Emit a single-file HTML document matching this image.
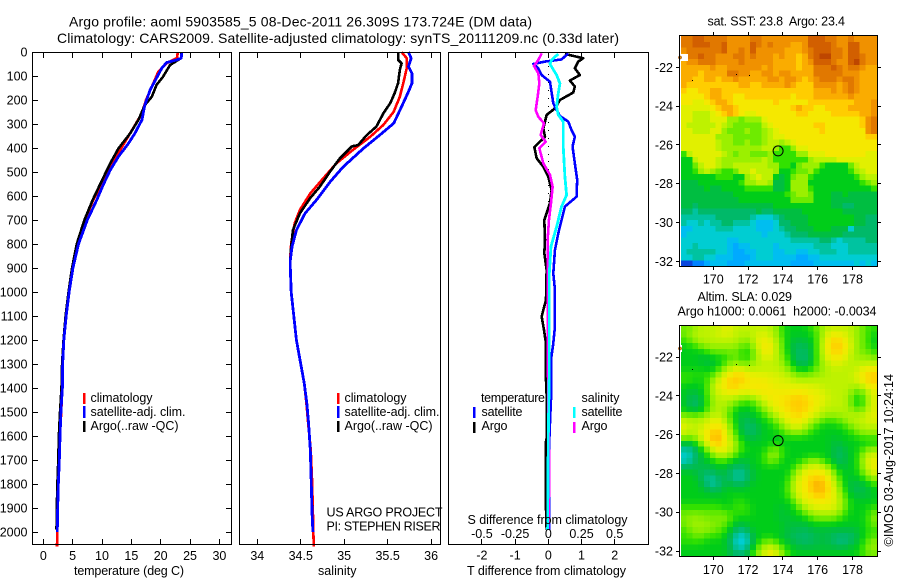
<!DOCTYPE html>
<html lang="en">
<head>
<meta charset="utf-8">
<title>Argo profile 5903585_5</title>
<style>
html,body{margin:0;padding:0;background:#fff;}
svg{display:block;}
text{font-family:"Liberation Sans",sans-serif;font-size:12.5px;fill:#000;}
.frame{fill:none;stroke:#000;stroke-width:1;shape-rendering:crispEdges;}
.pre{white-space:pre;}
</style>
</head>
<body>
<svg id="chart" xmlns="http://www.w3.org/2000/svg" width="900" height="580" viewBox="0 0 900 580">
<rect x="0" y="0" width="900" height="580" fill="#fff"/>
<g id="maps"></g>
<g id="marks"></g>
<rect class="frame" x="32.5" y="52.5" width="199" height="492"/>
<rect class="frame" x="239.5" y="52.5" width="201" height="492"/>
<rect class="frame" x="448.5" y="52.5" width="200" height="492"/>
<rect class="frame" x="679.5" y="35.5" width="198" height="231"/>
<rect class="frame" x="679.5" y="325.5" width="198" height="231"/>
<g id="ticks"></g>

<text x="69" y="26.5" textLength="463" lengthAdjust="spacing" style="font-size:14px">Argo profile: aoml 5903585_5 08-Dec-2011 26.309S 173.724E (DM data)</text>
<text x="57" y="43" textLength="562" lengthAdjust="spacing" style="font-size:14px">Climatology: CARS2009. Satellite-adjusted climatology: synTS_20111209.nc (0.33d later)</text>

<text x="74" y="575" textLength="110" lengthAdjust="spacing">temperature (deg C)</text>
<text x="318" y="575" textLength="38.5" lengthAdjust="spacing">salinity</text>
<text x="467" y="575" textLength="159" lengthAdjust="spacing">T difference from climatology</text>
<text x="467.5" y="524" textLength="160" lengthAdjust="spacing">S difference from climatology</text>

<g>
<rect x="83" y="393" width="2.5" height="11" fill="#ff0000"/>
<text x="90.5" y="402" textLength="62" lengthAdjust="spacing">climatology</text>
<rect x="83" y="406" width="2.5" height="12" fill="#0000ff"/>
<text x="90.5" y="416" textLength="95" lengthAdjust="spacing">satellite-adj. clim.</text>
<rect x="83" y="421" width="2.5" height="11" fill="#000"/>
<text x="90.5" y="430" textLength="88" lengthAdjust="spacing">Argo(..raw -QC)</text>
</g>
<g>
<rect x="337" y="393" width="2.5" height="11" fill="#ff0000"/>
<text x="344.5" y="402" textLength="62" lengthAdjust="spacing">climatology</text>
<rect x="337" y="406" width="2.5" height="12" fill="#0000ff"/>
<text x="344.5" y="416" textLength="95" lengthAdjust="spacing">satellite-adj. clim.</text>
<rect x="337" y="421" width="2.5" height="11" fill="#000"/>
<text x="344.5" y="430" textLength="88" lengthAdjust="spacing">Argo(..raw -QC)</text>
</g>
<text x="326.5" y="516.5" textLength="116" lengthAdjust="spacing">US ARGO PROJECT</text>
<text x="326.5" y="530.5" textLength="114" lengthAdjust="spacing">PI: STEPHEN RISER</text>

<g>
<text x="481" y="402" textLength="64" lengthAdjust="spacing">temperature</text>
<rect x="473" y="407" width="2.5" height="11" fill="#0000ff"/>
<text x="481.5" y="416" textLength="41" lengthAdjust="spacing">satellite</text>
<rect x="473" y="422" width="2.5" height="11" fill="#000"/>
<text x="481.5" y="430" textLength="26" lengthAdjust="spacing">Argo</text>
<text x="581.5" y="402" textLength="38" lengthAdjust="spacing">salinity</text>
<rect x="573" y="407" width="2.5" height="11" fill="#00ffff"/>
<text x="581.5" y="416" textLength="41" lengthAdjust="spacing">satellite</text>
<rect x="573" y="422" width="2.5" height="11" fill="#ff00ff"/>
<text x="581.5" y="430" textLength="26" lengthAdjust="spacing">Argo</text>
</g>

<text class="pre" x="707.5" y="25.5" textLength="137.5" lengthAdjust="spacing">sat. SST: 23.8  Argo: 23.4</text>
<text x="697.5" y="301" textLength="94.5" lengthAdjust="spacing">Altim. SLA: 0.029</text>
<text class="pre" x="677.5" y="315.5" textLength="199" lengthAdjust="spacing">Argo h1000: 0.0061  h2000: -0.0034</text>
<text transform="translate(893,546.5) rotate(-90)" textLength="172.5" lengthAdjust="spacing">©IMOS 03-Aug-2017 10:24:14</text>
</svg>

<script>
// ---------- profile data (depth in dbar) ----------
var tempClimDepths = [0,25,47,82,144,200,256,330,408,478,561,617,700,800,900,1000,1100,1200,1300,1400,1500,1600,1700,1800,1900,2000,2060];
var tempClimValues = [22.9,22.8,21.0,19.6,18.5,17.5,16.8,15.0,13.1,11.4,9.7,8.5,7.1,5.9,5.05,4.4,3.9,3.5,3.3,3.25,3.05,2.85,2.73,2.56,2.45,2.38,2.33];
var tempArgoDepths = [0,25,54,103,137,186,221,283,339,402,464,540,617,700,800,900,1000,1100,1200,1300,1400,1500,1600,1700,1800,1900,1990];
var tempArgoValues = [23.5,23.5,21.6,20.4,19.3,18.5,17.3,16.2,14.8,12.8,11.4,9.9,8.4,7.0,5.7,4.9,4.3,3.8,3.45,3.2,3.1,2.85,2.65,2.55,2.4,2.3,2.25];
var tempSatDepths = [0,26,33,44,67,108,158,221,283,339,381,436,492,554,617,700,800,900,1000,1100,1200,1300,1400,1500,1600,1700,1800,1900,2000];
var tempSatValues = [23.6,23.5,22.7,21.0,20.2,19.3,18.2,17.3,16.8,15.6,14.5,12.8,11.4,10.2,9.1,7.5,6.0,5.05,4.4,3.9,3.5,3.3,3.25,3.0,2.85,2.73,2.56,2.45,2.38];

var salClimDepths = [0,26,67,130,186,249,304,353,408,464,526,589,658,714,797,853,900,1000,1100,1200,1300,1380,1463,1546,1658,1783,1921,2000,2060];
var salClimValues = [35.66,35.72,35.72,35.68,35.64,35.57,35.45,35.30,35.10,34.91,34.76,34.61,34.49,34.43,34.39,34.38,34.38,34.39,34.42,34.45,34.50,34.54,34.565,34.585,34.615,34.63,34.64,34.645,34.65];
var salArgoDepths = [0,33,47,75,130,172,213,256,311,346,388,393,443,497,561,608,672,742,811,867,900,1000,1100,1200,1300,1380,1463,1546,1658,1783,1900];
var salArgoValues = [35.62,35.62,35.66,35.64,35.62,35.58,35.53,35.45,35.37,35.26,35.16,35.09,34.95,34.84,34.72,34.61,34.49,34.41,34.39,34.38,34.38,34.39,34.42,34.45,34.50,34.54,34.57,34.59,34.61,34.62,34.63];
var salSatDepths = [0,26,61,89,130,165,228,297,346,402,478,540,617,672,742,811,867,900,1000,1100,1200,1300,1380,1463,1546,1658,1783,1921,2000];
var salSatValues = [35.74,35.77,35.74,35.78,35.78,35.74,35.66,35.57,35.41,35.22,34.99,34.84,34.68,34.55,34.45,34.40,34.38,34.38,34.39,34.42,34.45,34.50,34.54,34.57,34.59,34.61,34.62,34.63,34.64];

var diffTSatDepths = [6,31,40,50,68,96,124,186,214,242,267,290,325,353,394,464,533,603,644,700,756,825,922,991,1144,1214,1283,1450,1547,1658,1991];
var diffTSatValues = [0.60,0.40,-0.10,-0.45,-0.30,-0.20,0.05,0.12,0.15,0.25,0.35,0.60,0.70,0.80,0.73,0.80,0.87,0.85,0.50,0.40,0.30,0.20,0.15,0.20,0.20,0.15,0.08,0.08,0.05,0.02,0.02];
var diffTArgoDepths = [8,26,40,68,96,119,144,169,200,235,262,290,318,353,397,443,478,519,575,630,700,783,839,908,1033,1102,1158,1214,1269,1366,1463,1602,1630,1852,1991];
var diffTArgoValues = [0.50,1.05,0.90,0.80,0.95,0.65,0.80,0.75,0.35,0.20,-0.05,-0.10,-0.15,-0.10,-0.42,-0.35,-0.15,0,0.10,0.05,-0.12,-0.10,-0.12,-0.05,-0.07,-0.20,-0.13,-0.07,-0.07,-0.07,-0.04,-0.04,-0.08,-0.08,-0.05];
var diffSSatDepths = [8,33,50,96,131,172,228,262,290,394,519,596,644,728,811,922,1325,1602,1991];
var diffSSatValues = [0.075,0.025,0.0125,0.0625,0.0875,0.075,0.0625,0.075,0.1125,0.1125,0.125,0.1375,0.10,0.0625,0.02,0.0075,0.0075,0,-0.005];
var diffSArgoDepths = [6,33,58,89,131,186,242,270,297,346,374,401,464,512,561,630,700,783,922,1214,1658,1852,1991];
var diffSArgoValues = [-0.05,-0.075,-0.1075,-0.075,-0.0675,-0.08,-0.095,-0.075,-0.0325,-0.0575,-0.02,-0.0675,-0.0375,0.0125,0.0325,0.02,0.005,-0.005,-0.005,-0.005,0.005,0.005,0];

// ---------- tick labels ----------
var depthTicks = [0,100,200,300,400,500,600,700,800,900,1000,1100,1200,1300,1400,1500,1600,1700,1800,1900,2000];
var tempTicks = [0,5,10,15,20,25,30];
var salTicks = [34,34.5,35,35.5,36];
var tDiffTicks = [-2,-1,0,1,2];
var sDiffTicks = [-0.5,-0.25,0,0.25,0.5];
var lonTicks = [170,172,174,176,178];
var latTicks = [-22,-24,-26,-28,-30,-32];
var argoLon = 173.724;
var argoLat = -26.309;
var floatTrackLons = [168.8,171.3,172.05];
var floatTrackLats = [-22.63,-22.37,-22.42];

// ---------- heatmap data: colour-level per cell (0 = coolest/lowest, 20 = warmest/highest) ----------
var sstRows = [
[18,18,19,19,18,18,18,18,17,17,17,17,18,18,17,17,17,17,17,17,17,17,19,19,19,18,18,17,17,18,17,17,17,17],
[18,18,19,19,19,18,18,19,17,17,17,17,19,18,17,18,17,17,17,16,16,17,19,19,19,19,18,17,17,19,19,17,17,17],
[17,18,18,18,18,18,18,19,17,17,18,17,19,17,17,17,17,17,16,16,16,17,18,19,19,19,18,18,17,19,19,17,17,17],
[16,18,18,19,18,18,17,17,17,18,18,17,18,17,17,17,16,17,16,16,15,16,18,19,20,20,18,18,17,19,19,18,17,17],
[16,17,17,18,18,18,17,17,17,17,18,17,17,17,17,17,16,16,16,16,15,16,17,19,19,19,18,17,17,19,20,18,17,17],
[16,16,16,16,16,17,16,16,17,17,17,17,17,17,16,17,16,16,16,16,15,16,16,18,18,18,19,18,17,18,18,17,16,16],
[16,16,16,15,16,16,16,16,18,18,17,17,16,16,17,17,16,17,17,16,16,16,16,18,18,18,18,18,17,17,17,16,16,16],
[16,16,15,15,16,16,15,16,16,17,16,16,16,16,16,17,17,16,17,17,16,15,16,17,18,18,18,17,18,18,17,16,16,16],
[16,15,15,15,15,15,15,15,15,15,16,16,15,15,16,16,16,16,17,16,15,15,15,17,17,17,17,16,17,18,17,16,16,16],
[15,14,14,15,15,16,16,15,15,15,15,15,15,15,15,15,15,15,15,15,15,15,15,16,16,16,17,16,17,18,17,16,16,16],
[14,14,14,14,15,16,16,15,15,14,14,15,15,15,15,15,15,15,15,14,15,15,15,16,16,16,16,16,16,17,16,16,16,16],
[14,14,13,13,14,15,16,16,15,14,14,14,14,14,14,14,15,14,14,14,14,14,15,15,15,15,15,15,15,15,16,16,16,17],
[13,13,13,13,13,14,15,16,16,15,14,14,14,14,14,14,14,14,14,15,16,15,15,14,14,15,15,15,15,16,16,16,16,17],
[13,13,12,12,12,13,14,15,16,15,14,13,13,14,14,14,14,14,14,14,15,15,14,14,14,14,15,15,15,15,15,16,16,17],
[13,13,12,12,12,13,13,13,11,11,10,11,11,11,13,14,14,14,14,14,14,14,14,14,14,14,14,14,14,14,14,15,17,18],
[13,12,12,12,12,12,13,12,11,10,10,10,10,10,12,13,14,14,14,14,14,14,14,15,15,14,14,14,14,14,14,15,17,18],
[13,13,12,12,12,13,13,11,10,10,10,11,10,10,11,12,13,14,14,14,14,14,14,14,15,14,14,14,14,14,14,14,17,18],
[13,13,13,13,13,13,11,11,11,10,10,10,10,10,11,12,13,13,14,14,14,14,14,14,14,14,14,14,14,14,14,14,15,15],
[13,13,13,13,13,13,12,11,11,10,10,11,10,10,11,12,12,11,12,13,14,14,14,14,14,14,14,14,14,14,14,14,14,14],
[13,13,13,13,13,13,12,11,11,11,11,11,11,11,12,12,11,9,9,11,13,13,14,14,14,14,14,14,14,14,14,14,14,14],
[9,12,13,13,13,13,13,12,11,10,11,11,10,10,10,11,9,9,9,9,11,11,13,13,13,14,14,14,14,14,14,14,13,13],
[8,8,12,13,13,13,12,11,11,11,11,11,11,11,12,11,9,9,9,9,9,9,11,12,12,12,12,13,13,13,13,13,13,13],
[8,8,10,12,13,13,12,11,11,12,12,12,12,12,12,11,11,9,9,8,10,11,11,11,9,8,8,8,8,10,12,13,13,13],
[8,8,9,11,12,11,10,9,9,10,12,12,13,12,12,12,11,8,8,9,10,10,11,9,8,8,8,8,8,9,11,12,13,13],
[8,8,8,8,8,8,9,9,9,8,8,11,12,13,12,12,8,7,8,10,11,11,9,8,8,8,8,8,8,8,9,11,12,12],
[7,7,7,8,8,8,8,8,8,8,9,11,11,12,12,11,7,7,8,11,11,11,8,8,8,8,8,8,8,8,8,9,10,11],
[7,7,7,7,8,7,7,8,8,8,8,9,9,9,9,9,7,7,8,11,11,11,9,8,8,8,8,8,8,8,8,8,8,9],
[7,7,7,7,7,7,7,7,7,8,8,8,8,8,8,8,8,8,9,10,11,11,10,8,8,8,7,7,8,7,7,7,7,7],
[7,7,7,7,7,7,7,7,7,7,8,8,8,8,8,8,8,8,8,10,10,10,10,8,8,8,7,7,7,7,7,7,7,7],
[7,7,6,7,7,7,7,7,7,7,7,7,7,7,7,7,8,8,8,8,8,8,8,8,8,8,7,7,6,6,7,7,7,7],
[6,6,5,6,6,6,6,6,6,6,6,6,6,7,6,6,7,7,7,7,7,8,8,8,8,8,8,8,7,7,7,7,7,7],
[5,5,5,5,5,5,6,6,6,6,6,6,5,4,4,4,5,6,7,7,7,7,8,8,8,8,8,8,8,8,7,7,6,6],
[5,4,4,5,4,5,5,6,6,5,5,5,4,3,3,3,4,6,6,7,7,7,8,8,8,8,8,8,8,8,7,7,6,6],
[3,3,4,4,4,4,5,5,5,4,4,4,4,3,3,3,4,5,6,6,7,7,7,8,8,8,7,7,7,4,6,6,6,6],
[3,4,4,4,4,4,4,4,4,4,4,4,4,4,3,4,4,4,5,6,6,6,7,7,7,7,7,7,6,6,6,6,6,6],
[4,4,4,4,4,4,4,4,3,3,4,4,4,4,4,4,4,4,4,5,5,5,5,5,6,6,5,4,5,5,5,5,6,6],
[4,4,5,4,4,4,4,4,3,2,3,3,4,4,4,4,3,4,4,4,4,4,4,5,5,5,4,4,4,5,5,5,5,5],
[4,5,5,5,5,5,4,4,3,2,2,3,3,4,4,4,3,3,4,4,3,3,4,4,5,5,5,4,4,5,5,5,5,5],
[4,4,5,5,4,4,3,3,3,2,2,2,3,4,4,4,3,3,3,3,2,2,3,3,4,4,4,4,4,4,4,4,4,4],
[0,0,1,1,2,3,3,3,2,2,2,3,3,3,3,3,3,3,3,2,2,2,2,3,3,3,3,3,3,3,4,3,4,3]
];
var slaRows = [
[10,10,11,12,12,12,12,13,13,12,12,12,12,12,12,12,11,9,8,8,8,8,9,10,11,12,12,12,12,12,11,10,9,9],
[10,11,12,12,12,12,13,13,13,12,12,12,12,13,13,12,11,9,8,8,8,8,8,9,11,13,14,13,13,12,11,10,9,8],
[9,10,11,12,12,12,12,12,12,12,11,10,12,13,14,13,12,10,8,7,7,7,8,9,12,14,15,15,14,12,11,10,9,8],
[8,8,9,10,11,11,11,11,11,11,10,9,11,13,14,14,12,10,8,7,6,7,7,9,12,14,15,15,14,13,11,10,9,8],
[8,8,8,8,9,10,10,10,10,10,9,8,10,12,14,14,12,10,8,7,6,6,7,9,12,14,15,15,14,12,11,10,10,9],
[8,8,8,7,7,8,8,8,9,10,9,8,10,12,13,13,12,11,9,7,6,6,7,9,12,13,14,14,13,12,11,11,11,10],
[8,8,8,8,7,7,8,9,11,11,10,10,11,12,12,12,12,11,9,8,6,6,7,9,11,12,13,13,12,12,12,12,12,12],
[8,8,8,8,8,8,9,11,12,13,13,12,12,12,12,12,12,12,11,9,8,8,9,10,11,12,12,12,12,12,12,13,14,14],
[9,9,9,9,9,9,11,13,14,15,15,14,13,13,13,13,13,12,12,11,10,10,10,11,11,12,12,12,12,12,13,14,15,15],
[9,9,8,8,9,11,13,14,15,15,15,14,14,14,14,13,13,13,13,12,12,12,12,12,12,12,12,12,12,12,13,14,15,15],
[8,8,8,8,9,12,13,14,15,15,14,14,14,14,14,14,13,13,13,13,13,13,13,13,12,12,12,12,12,12,11,12,14,14],
[8,7,7,8,9,12,13,13,14,14,13,13,14,14,14,14,14,14,14,14,14,14,13,13,13,12,12,12,12,11,9,10,12,13],
[8,7,6,7,9,11,12,12,12,12,11,11,11,12,13,14,14,14,14,15,15,15,14,14,13,13,12,12,12,10,8,9,12,13],
[8,6,6,7,9,11,12,12,11,10,9,8,9,11,12,13,14,14,15,15,15,15,14,14,13,12,12,12,12,10,8,8,12,13],
[8,7,6,7,9,11,12,11,10,8,8,8,8,9,11,12,13,14,14,15,15,15,14,13,12,12,12,12,12,11,9,10,12,13],
[10,10,10,10,11,12,12,11,9,8,7,7,8,8,9,11,12,13,14,14,15,14,13,13,12,11,11,11,11,12,12,12,13,13],
[13,12,12,12,13,13,14,12,10,8,7,6,7,8,8,9,10,12,13,14,14,13,12,11,9,9,9,10,11,12,12,12,13,13],
[13,12,12,12,13,14,14,13,11,8,7,6,6,7,8,8,9,10,12,13,13,12,10,9,8,8,8,8,9,10,11,12,12,12],
[13,12,12,13,14,15,16,14,12,9,7,6,6,7,8,8,8,9,10,11,11,10,9,8,8,8,8,8,8,9,10,11,11,11],
[11,10,11,13,14,16,16,14,12,10,8,7,7,7,8,8,8,8,8,8,8,8,8,8,8,8,7,8,8,8,8,9,9,9],
[7,6,8,10,13,15,15,14,13,11,9,8,8,8,8,8,8,8,8,8,8,8,8,8,8,8,7,7,8,8,8,8,8,8],
[5,5,6,8,10,13,14,13,13,11,9,8,8,8,8,10,11,9,8,8,8,8,8,8,8,8,7,6,7,8,8,9,11,11],
[4,4,6,7,8,10,12,12,11,9,8,8,8,8,9,11,11,9,8,8,8,8,8,8,8,8,7,6,7,8,8,11,13,13],
[4,5,6,7,8,8,9,9,8,8,7,7,8,8,9,11,10,8,8,8,8,9,11,11,9,8,7,6,7,8,8,11,13,13],
[6,6,7,7,7,7,8,8,7,6,6,7,8,8,8,8,8,8,8,8,11,12,13,13,13,11,9,7,7,8,8,11,13,14],
[8,8,7,6,6,6,7,7,6,5,5,6,7,8,8,8,8,8,8,10,12,13,14,14,14,13,11,8,8,8,8,10,12,13],
[8,8,8,7,5,5,6,7,6,5,5,6,7,8,8,8,8,8,8,11,13,14,15,15,15,14,12,9,8,7,8,8,10,11],
[8,8,8,7,5,5,5,7,7,6,6,7,8,8,8,8,8,8,9,12,13,14,15,16,16,14,13,10,8,7,7,7,8,9],
[8,8,8,8,7,6,6,8,8,8,8,8,8,8,8,8,8,8,9,12,13,14,15,16,16,15,13,11,8,7,6,7,7,8],
[8,8,8,8,8,8,8,8,8,8,8,8,8,8,8,8,8,8,9,11,13,14,14,15,15,14,13,12,9,8,7,7,7,8],
[8,8,8,8,8,8,8,8,8,9,9,8,8,8,8,8,8,8,8,9,12,13,13,14,14,14,13,12,10,8,8,8,8,8],
[9,9,9,9,9,9,9,8,8,9,9,9,8,8,8,8,8,7,8,8,10,12,13,13,13,13,13,12,10,8,8,8,8,9],
[10,10,10,10,10,10,10,10,9,9,9,9,8,8,8,8,8,7,8,8,8,10,11,12,12,12,12,11,9,8,8,8,9,10],
[10,11,11,11,10,10,10,11,10,8,8,8,8,8,8,8,8,7,7,8,8,8,9,10,10,10,10,9,8,8,8,8,9,11],
[10,11,11,11,11,11,10,10,8,8,7,8,8,8,8,8,8,8,7,7,7,7,8,8,8,8,8,8,8,8,8,8,9,10],
[9,10,11,11,11,10,10,9,8,6,5,6,8,8,8,8,8,8,7,7,7,6,7,7,7,7,7,7,7,7,7,8,9,9],
[9,9,10,10,9,9,9,8,7,5,4,5,7,8,8,8,8,7,7,6,6,6,6,7,7,7,6,6,6,6,7,8,9,9],
[9,9,9,9,8,8,8,8,6,4,3,4,7,8,10,10,9,8,7,7,6,6,6,7,7,7,6,5,5,6,7,8,10,11],
[8,8,8,8,8,8,8,8,7,5,4,5,8,10,12,13,12,10,8,8,7,7,7,7,7,7,7,7,7,8,8,9,11,11],
[8,8,8,8,8,8,8,8,7,6,6,7,9,11,13,14,13,11,9,8,8,8,8,8,8,8,8,8,8,8,8,9,10,10]
];

// colour ramp: one rgb triple per level
var colorScale = [[10,70,220],[0,130,255],[0,170,255],[0,190,240],[0,205,210],[0,195,160],[0,185,105],[0,190,65],[0,205,25],[50,225,0],[110,235,0],[155,240,0],[190,242,0],[225,240,0],[245,232,0],[255,205,0],[250,172,0],[240,145,0],[225,120,0],[210,95,0],[190,70,0]];

// ---------- axis functions ----------
function depthY(d){ return 52 + d * 0.24; }
function tempX(t){ return 43.3 + t * 5.87; }
function salX(s){ return 257.3 + (s - 34) * 86.9; }
function tDiffX(v){ return 548.3 + v * 33.2; }
function sDiffX(s){ return tDiffX(s * 4); }
function lonX(lon){ return 713.3 + (lon - 170) * 17.4; }
function sstLatY(lat){ return 67.3 + (-22 - lat) * 19.4; }
function slaLatY(lat){ return 357 + (-22 - lat) * 19.4; }

function levelColor(v){
  var t = Math.max(0, Math.min(colorScale.length - 1.001, v));
  var i = Math.floor(t), f = t - i;
  var a = colorScale[i], b = colorScale[i + 1];
  return 'rgb(' + Math.round(a[0] + (b[0] - a[0]) * f) + ',' + Math.round(a[1] + (b[1] - a[1]) * f) + ',' + Math.round(a[2] + (b[2] - a[2]) * f) + ')';
}

// the SLA field is a smooth analysis: soften integer level steps before colouring
function softened(rows){
  var kernel = [[1,2,1],[2,4,2],[1,2,1]];
  return rows.map(function(row, r){
    return row.map(function(_, c){
      var sum = 0;
      for (var i = -1; i <= 1; i++){
        for (var j = -1; j <= 1; j++){
          var rr = rows[Math.max(0, Math.min(rows.length - 1, r + i))];
          sum += kernel[i + 1][j + 1] * rr[Math.max(0, Math.min(row.length - 1, c + j))];
        }
      }
      return sum / 16;
    });
  });
}

var NS = 'http://www.w3.org/2000/svg';
var mapLayer = document.getElementById('maps');
var markLayer = document.getElementById('marks');
var tickLayer = document.getElementById('ticks');

function drawHeatmap(rows, latY, name){
  var lon0 = 168.14, dLon = 0.3313, lat0 = -20.39, dLat = 0.2964;
  for (var r = 0; r < rows.length; r++){
    for (var c = 0; c < rows[r].length; c++){
      var x0 = lonX(lon0 + c * dLon), x1 = lonX(lon0 + (c + 1) * dLon);
      var y0 = latY(lat0 - r * dLat), y1 = latY(lat0 - (r + 1) * dLat);
      var cell = document.createElementNS(NS, 'rect');
      cell.setAttribute('x', x0.toFixed(2));
      cell.setAttribute('y', y0.toFixed(2));
      cell.setAttribute('width', (x1 - x0 + 0.4).toFixed(2));
      cell.setAttribute('height', (y1 - y0 + 0.4).toFixed(2));
      cell.setAttribute('fill', levelColor(rows[r][c]));
      cell.setAttribute('shape-rendering', 'crispEdges');
      
      
      mapLayer.appendChild(cell);
    }
  }
}

function drawProfile(depths, values, xFn, color, width, name){
  var d = '';
  for (var i = 0; i < values.length; i++){
    d += (i ? 'L' : 'M') + xFn(values[i]).toFixed(2) + ' ' + depthY(depths[i]).toFixed(2);
  }
  var path = document.createElementNS(NS, 'path');
  path.setAttribute('d', d);
  path.setAttribute('fill', 'none');
  path.setAttribute('stroke', color);
  path.setAttribute('stroke-width', width);
  path.setAttribute('stroke-linejoin', 'round');
  path.setAttribute('shape-rendering', 'crispEdges');
  
  
  markLayer.appendChild(path);
}

function addTick(x1, y1, x2, y2, name){
  var t = document.createElementNS(NS, 'line');
  t.setAttribute('x1', x1);
  t.setAttribute('y1', y1);
  t.setAttribute('x2', x2);
  t.setAttribute('y2', y2);
  t.setAttribute('stroke', '#000');
  t.setAttribute('stroke-width', 1);
  t.setAttribute('shape-rendering', 'crispEdges');
  
  
  tickLayer.appendChild(t);
}

function addLabel(x, y, str, anchor, name){
  var t = document.createElementNS(NS, 'text');
  t.setAttribute('x', x);
  t.setAttribute('y', y);
  t.setAttribute('text-anchor', anchor);
  
  
  t.textContent = str;
  tickLayer.appendChild(t);
}

function px(v){ return Math.round(v) + 0.5; }

// ---------- heatmaps ----------
drawHeatmap(sstRows, sstLatY, 'sst-cell');
drawHeatmap(softened(slaRows), slaLatY, 'sla-cell');

function drawMapMarkers(latY, boxY, boxW, name){
  var box = document.createElementNS(NS, 'rect');
  box.setAttribute('x', 680);
  box.setAttribute('y', boxY);
  box.setAttribute('width', boxW);
  box.setAttribute('height', 7);
  box.setAttribute('fill', '#fff');
  box.setAttribute('shape-rendering', 'crispEdges');
  
  
  mapLayer.appendChild(box);
  var dot = document.createElementNS(NS, 'circle');
  dot.setAttribute('cx', 680);
  dot.setAttribute('cy', boxY + 3.5);
  dot.setAttribute('r', 1.6);
  dot.setAttribute('fill', '#f09100');
  dot.setAttribute('stroke', '#7a3000');
  dot.setAttribute('stroke-width', 0.5);
  
  
  mapLayer.appendChild(dot);
  for (var i = 0; i < floatTrackLons.length; i++){
    var p = document.createElementNS(NS, 'rect');
    p.setAttribute('x', Math.round(lonX(floatTrackLons[i])));
    p.setAttribute('y', Math.round(latY(floatTrackLats[i])));
    p.setAttribute('width', 1);
    p.setAttribute('height', 1);
    p.setAttribute('fill', '#000');
    
    
    mapLayer.appendChild(p);
  }
  var c = document.createElementNS(NS, 'circle');
  c.setAttribute('cx', lonX(argoLon).toFixed(1));
  c.setAttribute('cy', latY(argoLat).toFixed(1));
  c.setAttribute('r', 5);
  c.setAttribute('fill', 'none');
  c.setAttribute('stroke', '#000');
  c.setAttribute('stroke-width', 1);
  
  
  mapLayer.appendChild(c);
}
drawMapMarkers(sstLatY, 54, 8, 'sst-map');
drawMapMarkers(slaLatY, 345, 2, 'sla-map');

// ---------- profiles ----------
drawProfile(tempClimDepths, tempClimValues, tempX, '#ff0000', 2.6, 'temperature-climatology-line');
drawProfile(tempArgoDepths, tempArgoValues, tempX, '#000000', 2.6, 'temperature-argo-line');
drawProfile(tempSatDepths, tempSatValues, tempX, '#0000ff', 2.8, 'temperature-satellite-line');
drawProfile(salClimDepths, salClimValues, salX, '#ff0000', 2.6, 'salinity-climatology-line');
drawProfile(salArgoDepths, salArgoValues, salX, '#000000', 2.6, 'salinity-argo-line');
drawProfile(salSatDepths, salSatValues, salX, '#0000ff', 2.8, 'salinity-satellite-line');

// zero reference dots on the difference panel
for (var dz = 60; dz < 640; dz += 33){
  var zeroDot = document.createElementNS(NS, 'rect');
  zeroDot.setAttribute('x', Math.round(tDiffX(0)));
  zeroDot.setAttribute('y', Math.round(depthY(dz)));
  zeroDot.setAttribute('width', 1);
  zeroDot.setAttribute('height', 1);
  zeroDot.setAttribute('fill', '#000');
  
  
  markLayer.appendChild(zeroDot);
}
drawProfile(diffTArgoDepths, diffTArgoValues, tDiffX, '#000000', 2.6, 'difference-t-argo-line');
drawProfile(diffTSatDepths, diffTSatValues, tDiffX, '#0000ff', 2.6, 'difference-t-satellite-line');
drawProfile(diffSArgoDepths, diffSArgoValues, sDiffX, '#ff00ff', 2.6, 'difference-s-argo-line');
drawProfile(diffSSatDepths, diffSSatValues, sDiffX, '#00ffff', 2.8, 'difference-s-satellite-line');

// ---------- ticks and labels ----------
depthTicks.forEach(function(d){
  var y = px(depthY(d) - 0.5);
  addTick(33, y, 38, y, 'depth-tick-left');
  addTick(226, y, 231, y, 'depth-tick-right');
  addLabel(27.5, depthY(d) + 4.5, String(d), 'end', 'depth-tick-label');
});
tempTicks.forEach(function(t){
  var x = px(tempX(t) - 0.5);
  addTick(x, 53, x, 58, 'temperature-tick-top');
  addTick(x, 539, x, 544, 'temperature-tick-bottom');
  addLabel(tempX(t), 560, String(t), 'middle', 'temperature-tick-label');
});
salTicks.forEach(function(s){
  var x = px(salX(s) - 0.5);
  addTick(x, 53, x, 58, 'salinity-tick-top');
  addTick(x, 539, x, 544, 'salinity-tick-bottom');
  addLabel(salX(s), 560, String(s), 'middle', 'salinity-tick-label');
});
tDiffTicks.forEach(function(v){
  var x = px(tDiffX(v) - 0.5);
  addTick(x, 53, x, 58, 'difference-tick-top');
  addTick(x, 539, x, 544, 'difference-tick-bottom');
  addLabel(tDiffX(v), 559.5, String(v), 'middle', 't-difference-tick-label');
});
sDiffTicks.forEach(function(s){
  addLabel(sDiffX(s), 538, String(s), 'middle', 's-difference-tick-label');
});
[[35, 266, sstLatY, 283.5, 'sst'], [325, 556, slaLatY, 574, 'sla']].forEach(function(m){
  lonTicks.forEach(function(lon){
    var x = px(lonX(lon) - 0.5);
    addTick(x, m[0] - 3, x, m[0], m[4] + '-lon-tick-top');
    addTick(x, m[1] + 1, x, m[1] + 4, m[4] + '-lon-tick-bottom');
    addLabel(lonX(lon), m[3], String(lon), 'middle', m[4] + '-lon-tick-label');
  });
  latTicks.forEach(function(lat){
    var y = px(m[2](lat) - 0.5);
    addTick(676, y, 679, y, m[4] + '-lat-tick-left');
    addTick(878, y, 881, y, m[4] + '-lat-tick-right');
    addLabel(673, m[2](lat) + 4.5, String(lat), 'end', m[4] + '-lat-tick-label');
  });
});
</script>
</body>
</html>
